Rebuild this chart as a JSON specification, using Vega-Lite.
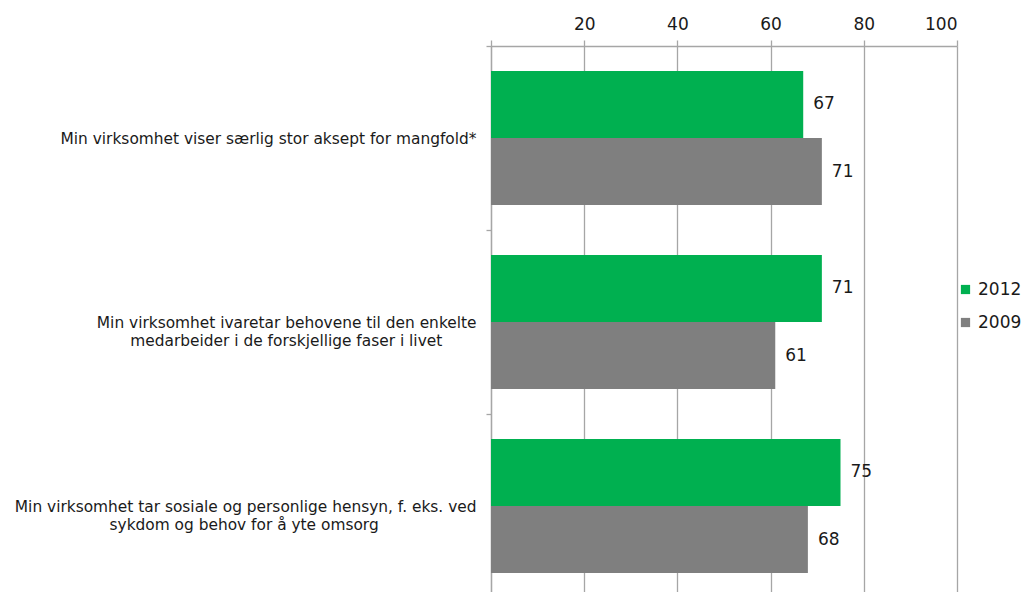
{
  "$schema": "https://vega.github.io/schema/vega-lite/v6.json",
  "autosize": {"type": "none"},
  "padding": {"left": 491, "top": 46, "right": 67, "bottom": 0},
  "width": 466,
  "height": 552,
  "background": "white",
  "config": {"view": {"stroke": null}, "font": "DejaVu Sans"},
  "data": {
    "values": [
      {"statement": "Min virksomhet viser særlig stor aksept for mangfold*", "year": "2012", "value": 67},
      {"statement": "Min virksomhet viser særlig stor aksept for mangfold*", "year": "2009", "value": 71},
      {"statement": "Min virksomhet ivaretar behovene til den enkelte|medarbeider i de forskjellige faser i livet", "year": "2012", "value": 71},
      {"statement": "Min virksomhet ivaretar behovene til den enkelte|medarbeider i de forskjellige faser i livet", "year": "2009", "value": 61},
      {"statement": "Min virksomhet tar sosiale og personlige hensyn, f. eks. ved|sykdom og behov for å yte omsorg", "year": "2012", "value": 75},
      {"statement": "Min virksomhet tar sosiale og personlige hensyn, f. eks. ved|sykdom og behov for å yte omsorg", "year": "2009", "value": 68}
    ]
  },
  "encoding": {
    "y": {
      "field": "statement",
      "type": "nominal",
      "sort": null,
      "scale": {"paddingInner": 0, "paddingOuter": 0},
      "axis": {
        "title": null,
        "tickBand": "extent",
        "tickSize": 5,
        "labelPadding": 10,
        "labelFontSize": 15.4,
        "labelColor": "#1a1a1a",
        "labelLimit": 0,
        "labelLineHeight": 18,
        "labelBaseline": "middle",
        "domainColor": "#a6a6a6",
        "domainWidth": 1.3,
        "tickColor": "#a6a6a6",
        "tickWidth": 1.3,
        "grid": false,
        "labelExpr": "indexof(datum.label, '|') < 0 ? datum.label : [split(datum.label, '|')[0], split(datum.label, '|')[1] + pad('', indexof(datum.label, 'omsorg') >= 0 ? 20 : 7, '\u00a0') + '\u200b']"
      }
    },
    "yOffset": {
      "field": "year",
      "type": "nominal",
      "sort": ["2012", "2009"],
      "scale": {"paddingInner": 0, "paddingOuter": 0.373}
    },
    "x": {
      "field": "value",
      "type": "quantitative",
      "scale": {"domain": [0, 100], "nice": false},
      "axis": {
        "orient": "top",
        "title": null,
        "values": [0, 20, 40, 60, 80, 100],
        "labelExpr": "datum.value == 0 ? '' : datum.label",
        "grid": true,
        "gridColor": "#a6a6a6",
        "gridWidth": 1.3,
        "tickSize": 6,
        "tickColor": "#a6a6a6",
        "tickWidth": 1.3,
        "domainColor": "#a6a6a6",
        "domainWidth": 1.3,
        "labelPadding": 7,
        "labelFontSize": 17,
        "labelColor": "#1a1a1a"
      }
    }
  },
  "layer": [
    {
      "mark": {"type": "bar"},
      "encoding": {
        "color": {
          "field": "year",
          "type": "nominal",
          "scale": {"domain": ["2012", "2009"], "range": ["#00B050", "#7F7F7F"]},
          "legend": {
            "orient": "none",
            "legendX": 466,
            "legendY": 235,
            "title": null,
            "symbolType": "square",
            "symbolSize": 85,
            "symbolStrokeWidth": 0,
            "labelFontSize": 17,
            "labelColor": "#1a1a1a",
            "rowPadding": 15,
            "labelOffset": 4
          }
        }
      }
    },
    {
      "mark": {"type": "text", "align": "left", "baseline": "middle", "dx": 10, "fontSize": 17, "fill": "#1a1a1a"},
      "encoding": {"text": {"field": "value", "type": "quantitative"}}
    }
  ]
}
